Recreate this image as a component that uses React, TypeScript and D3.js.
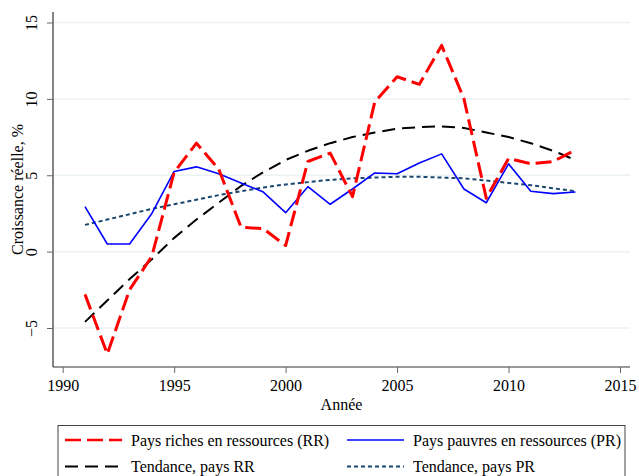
import React, { useRef, useEffect } from "react";
import * as d3 from "d3";

// années et séries
const years = [
  1991, 1992, 1993, 1994, 1995, 1996, 1997, 1998, 1999, 2000, 2001, 2002,
  2003, 2004, 2005, 2006, 2007, 2008, 2009, 2010, 2011, 2012, 2013,
];
const riches = [
  -2.8, -6.7, -2.5, -0.3, 5.2, 7.1, 5.4, 1.6, 1.5, 0.4, 5.9, 6.45, 3.6, 9.8,
  11.45, 10.95, 13.5, 10.0, 3.5, 6.1, 5.75, 5.9, 6.65,
];
const pauvres = [
  2.95, 0.5, 0.5, 2.5, 5.25, 5.55, 5.1, 4.5, 3.9, 2.55, 4.25, 3.1, 4.1, 5.15,
  5.1, 5.8, 6.4, 4.1, 3.2, 5.75, 3.95, 3.8, 3.9,
];
const tendRiches = [
  -4.6, -3.2, -1.8, -0.5, 0.9, 2.1, 3.2, 4.3, 5.2, 6.0, 6.6, 7.1, 7.5, 7.8,
  8.05, 8.15, 8.2, 8.1, 7.8, 7.5, 7.1, 6.6, 6.0,
];
const tendPauvres = [
  1.75, 2.1, 2.45, 2.8, 3.1, 3.4, 3.7, 3.95, 4.2, 4.4, 4.55, 4.7, 4.8, 4.85,
  4.9, 4.9, 4.85, 4.8, 4.65, 4.5, 4.35, 4.15, 3.95,
];
const xTicks = [1990, 1995, 2000, 2005, 2010, 2015];
const yTicks = [-5, 0, 5, 10, 15];

const series = [
  { label: "Pays riches en ressources (RR)", values: riches, color: "#ff0000", width: 3, dash: "16,6" },
  { label: "Pays pauvres en ressources (PR)", values: pauvres, color: "#0000ff", width: 1.6, dash: null },
  { label: "Tendance, pays RR", values: tendRiches, color: "#000000", width: 2, dash: "13,7" },
  { label: "Tendance, pays PR", values: tendPauvres, color: "#1a476f", width: 2, dash: "4,3" },
];

const FONT = "'Liberation Serif', 'Times New Roman', serif";

const App = () => {
  const svgRef = useRef<SVGSVGElement | null>(null);

  useEffect(() => {
    const svg = d3.select(svgRef.current);
    svg.selectAll("*").remove();

    const left = 53;
    const right = 630;
    const top = 12;
    const bottom = 367;

    const x = d3.scaleLinear().domain([1990, 2015]).range([62.7, 620]);
    const y = d3.scaleLinear().domain([-5, 15]).range([328, 22.5]);

    // grille
    svg
      .append("g")
      .selectAll("line")
      .data(yTicks)
      .join("line")
      .attr("x1", left)
      .attr("x2", right)
      .attr("y1", (d) => y(d))
      .attr("y2", (d) => y(d))
      .attr("stroke", "#eaf2f3")
      .attr("stroke-width", 1.5);

    // axe x
    const xAxis = d3
      .axisBottom(x)
      .tickValues(xTicks)
      .tickFormat(d3.format("d"))
      .tickSize(6)
      .tickSizeOuter(0);
    const gx = svg.append("g").attr("transform", `translate(0,${bottom})`).call(xAxis);
    gx.select(".domain").attr("d", `M${left},0H${right}`).attr("stroke", "#333").attr("stroke-width", 1.2);
    gx.selectAll(".tick line").attr("stroke", "#666");
    gx.selectAll(".tick text")
      .attr("font-family", FONT)
      .attr("font-size", 16)
      .attr("fill", "#000")
      .attr("dy", "0.71em")
      .attr("y", 13);

    // axe y
    const yAxis = d3.axisLeft(y).tickValues(yTicks).tickSize(6).tickSizeOuter(0);
    const gy = svg.append("g").attr("transform", `translate(${left},0)`).call(yAxis);
    gy.select(".domain").attr("d", `M0,${top}V${bottom}`).attr("stroke", "#333").attr("stroke-width", 1.2);
    gy.selectAll(".tick line").attr("stroke", "#666");
    gy.selectAll(".tick text")
      .attr("font-family", FONT)
      .attr("font-size", 16)
      .attr("fill", "#000")
      .attr("x", null)
      .attr("dy", null)
      .attr("text-anchor", "middle")
      .attr("transform", "translate(-20,0) rotate(-90)")
      .attr("dominant-baseline", "middle");

    // titres
    svg
      .append("text")
      .attr("x", (left + right) / 2)
      .attr("y", 410)
      .attr("text-anchor", "middle")
      .attr("font-family", FONT)
      .attr("font-size", 16)
      .text("Année");
    svg
      .append("text")
      .attr("transform", `translate(23,${(top + bottom) / 2}) rotate(-90)`)
      .attr("text-anchor", "middle")
      .attr("font-family", FONT)
      .attr("font-size", 16)
      .text("Croissance réelle, %");

    // lignes
    const line = d3
      .line<number>()
      .x((d, i) => x(years[i]))
      .y((d) => y(d));
    svg
      .append("g")
      .selectAll("path")
      .data([series[3], series[2], series[1], series[0]])
      .join("path")
      .attr("d", (s) => line(s.values))
      .attr("fill", "none")
      .attr("stroke", (s) => s.color)
      .attr("stroke-width", (s) => s.width)
      .attr("stroke-dasharray", (s) => s.dash)
      .attr("stroke-linejoin", "round");

    // légende
    const lg = svg.append("g");
    lg.append("rect")
      .attr("x", 58)
      .attr("y", 425.5)
      .attr("width", 567)
      .attr("height", 60)
      .attr("fill", "#fff")
      .attr("stroke", "#444")
      .attr("stroke-width", 1);
    const items = lg
      .selectAll("g")
      .data(series)
      .join("g")
      .attr("transform", (s, i) => `translate(${i % 2 === 0 ? 65 : 347},${i < 2 ? 440 : 466.5})`);
    items
      .append("line")
      .attr("x1", 0)
      .attr("x2", 57)
      .attr("stroke", (s) => s.color)
      .attr("stroke-width", (s) => (s.width > 2 ? 2.5 : s.width))
      .attr("stroke-dasharray", (s) => s.dash);
    items
      .append("text")
      .attr("x", 66)
      .attr("dy", "0.35em")
      .attr("font-family", FONT)
      .attr("font-size", 16)
      .text((s) => s.label);
  }, []);

  return (
    <svg
      ref={svgRef}
      width={639}
      height={476}
      style={{ position: "absolute", left: 0, top: 0, background: "#fff" }}
    />
  );
};

export default App;
